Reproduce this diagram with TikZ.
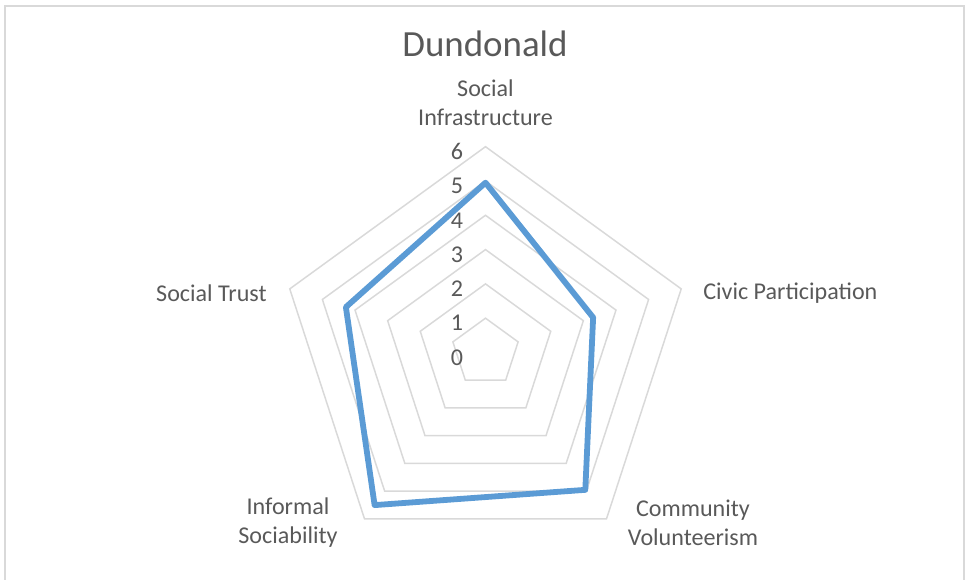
\documentclass[tikz,border=0pt]{standalone}
\usepackage{fontspec}
\setmainfont{Carlito}
\usetikzlibrary{positioning}
\definecolor{gridgrey}{HTML}{D9D9D9}
\definecolor{txtgrey}{HTML}{595959}
\definecolor{serblue}{HTML}{5B9BD5}

\begin{document}
\begin{tikzpicture}[x=0.02cm,y=0.02cm,
      grid/.style={draw=gridgrey,line width=0.85pt},
      series/.style={draw=serblue,line width=3.3pt,line join=round},
      lbl/.style={text=txtgrey,font=\fontsize{13.7}{16.5}\selectfont,align=center,inner sep=0pt},
      ticklbl/.style={text=txtgrey,font=\fontsize{13.7}{16.5}\selectfont,anchor=east,inner sep=0pt}
    ]
      \useasboundingbox (0,0) rectangle (965,580);
      \draw[gridgrey,line width=0.9pt] (5,-10) rectangle (964,574);
      \node[text=txtgrey,font=\fontsize{21}{25}\selectfont] (title) at (485,536) {Dundonald};

      \begin{scope}[shift={(485.5,227.5)}]
      % rings 1..6
      \foreach \r in {1,...,6}
        \draw[grid] (90:\r*34.3) -- (18:\r*34.3) -- (-54:\r*34.3) -- (-126:\r*34.3) -- (162:\r*34.3) -- cycle;
      \foreach \r in {0,...,6}
        \node[ticklbl] (t\r) at (-22,\r*34.3-5) {\r};

      \coordinate (si) at (90:4.95*34.3);
      \coordinate (cp) at (18:3.3*34.3);
      \coordinate (cv) at (-54:4.95*34.3);
      \coordinate (is) at (-126:5.5*34.3);
      \coordinate (st) at (162:4.28*34.3);
      \draw[series] (si) -- (cp) -- (cv) -- (is) -- (st) -- cycle;

      \node[lbl] (lsi) at (0,250) {Social\\Infrastructure};
      \node[lbl,anchor=west] (lcp) at (217.5,59) {Civic Participation};
      \node[lbl] (lcv) at (207.5,-170) {Community\\Volunteerism};
      \node[lbl] (lis) at (-197.5,-170) {Informal\\Sociability};
      \node[lbl,anchor=east] (lst) at (-218.5,59) {Social Trust};
      \end{scope}
    \end{tikzpicture}
\end{document}
